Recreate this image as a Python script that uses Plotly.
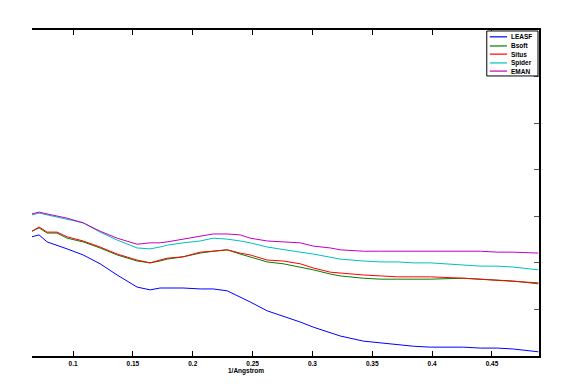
import plotly.graph_objects as go

freq = [0.0657, 0.0716, 0.0783, 0.0866, 0.0950, 0.1084, 0.1226, 0.1368, 0.1535, 0.1644,
        0.1727, 0.1786, 0.1920, 0.2062, 0.2171, 0.2288, 0.2396, 0.2480, 0.2622, 0.2756,
        0.2898, 0.3007, 0.3149, 0.3232, 0.3425, 0.3567, 0.3709, 0.3843, 0.3985, 0.4261,
        0.4403, 0.4545, 0.4679, 0.4888]

leasf = [0.256, 0.260, 0.245, 0.238, 0.230, 0.217, 0.198, 0.174, 0.148, 0.142,
         0.146, 0.146, 0.146, 0.144, 0.144, 0.140, 0.127, 0.116, 0.097, 0.086,
         0.073, 0.062, 0.049, 0.043, 0.032, 0.028, 0.024, 0.021, 0.019, 0.019,
         0.017, 0.017, 0.015, 0.009]

bsoft = [0.268, 0.275, 0.264, 0.264, 0.253, 0.245, 0.232, 0.217, 0.204, 0.200,
         0.204, 0.208, 0.213, 0.221, 0.225, 0.228, 0.219, 0.213, 0.202, 0.198,
         0.191, 0.185, 0.176, 0.172, 0.167, 0.165, 0.165, 0.165, 0.165, 0.167,
         0.165, 0.163, 0.161, 0.155]

situs = [0.268, 0.277, 0.266, 0.266, 0.256, 0.247, 0.234, 0.219, 0.206, 0.200,
         0.206, 0.210, 0.213, 0.223, 0.225, 0.228, 0.221, 0.217, 0.206, 0.204,
         0.198, 0.189, 0.180, 0.178, 0.174, 0.172, 0.170, 0.170, 0.170, 0.167,
         0.165, 0.163, 0.161, 0.157]

spider = [0.303, 0.307, 0.303, 0.298, 0.294, 0.286, 0.266, 0.249, 0.232, 0.230,
          0.234, 0.238, 0.243, 0.247, 0.253, 0.251, 0.247, 0.243, 0.234, 0.228,
          0.223, 0.219, 0.213, 0.208, 0.204, 0.202, 0.202, 0.200, 0.200, 0.195,
          0.193, 0.193, 0.191, 0.185]

eman = [0.305, 0.309, 0.305, 0.301, 0.296, 0.286, 0.268, 0.253, 0.240, 0.243,
        0.243, 0.245, 0.251, 0.258, 0.262, 0.262, 0.260, 0.253, 0.247, 0.245,
        0.243, 0.236, 0.232, 0.228, 0.225, 0.225, 0.225, 0.225, 0.225, 0.225,
        0.225, 0.223, 0.223, 0.221]

names = ["LEASF", "Bsoft", "Situs", "Spider", "EMAN"]
colors = ["#0000FF", "#008000", "#FF0000", "#00BFBF", "#BF00BF"]
values = [leasf, bsoft, situs, spider, eman]
xticks = [0.1, 0.15, 0.2, 0.25, 0.3, 0.35, 0.4, 0.45]

fig = go.Figure()
for name, vals, col in zip(names, values, colors):
    fig.add_trace(go.Scatter(x=freq, y=vals, mode="lines", name=name,
                             line=dict(color=col, width=1), showlegend=False))

fam = "Liberation Sans, Arial, sans-serif"
font = dict(family=fam, size=7, color="black")

# hand-drawn compact legend (paper coordinates)
shapes = [dict(type="rect", xref="paper", yref="paper", x0=0.897, x1=0.998, y0=0.859, y1=0.997,
               line=dict(color="black", width=1), fillcolor="white", layer="above")]
annotations = []
legend_y = [0.979, 0.951, 0.926, 0.899, 0.874]
for name, col, ly in zip(names, colors, legend_y):
    shapes.append(dict(type="line", xref="paper", yref="paper", x0=0.903, x1=0.937, y0=ly, y1=ly,
                       line=dict(color=col, width=1.2), layer="above"))
    annotations.append(dict(xref="paper", yref="paper", x=0.941, y=ly, text="<b>%s</b>" % name,
                            showarrow=False, xanchor="left", yanchor="middle",
                            font=dict(family=fam, size=6.5, color="black")))

# axis title (offset left of centre, as in the original)
annotations.append(dict(xref="x", yref="paper", x=0.2447, y=0, yshift=-15, text="<b>1/Angstrom</b>",
                        showarrow=False, xanchor="center", yanchor="middle",
                        font=dict(family=fam, size=6.5, color="black")))

fig.update_layout(
    width=572, height=388,
    margin=dict(l=24, r=41, t=22, b=40),
    paper_bgcolor="white", plot_bgcolor="white",
    font=font,
    shapes=shapes, annotations=annotations,
    xaxis=dict(range=[0.0657, 0.4893], tickvals=xticks,
               ticktext=["<b>%g</b>" % t for t in xticks],
               ticks="inside", ticklen=5, tickcolor="black", showgrid=False, zeroline=False,
               showline=True, linecolor="black", linewidth=1.5, mirror="ticks",
               tickfont=dict(family=fam, size=6.5, color="black")),
    yaxis=dict(range=[0, 0.7], dtick=0.1, side="right", ticks="inside", ticklen=5,
               tickcolor="#555555", showticklabels=False, showgrid=False, zeroline=False,
               showline=True, linecolor="black", linewidth=1.5),
)

fig.write_html("out.html")
